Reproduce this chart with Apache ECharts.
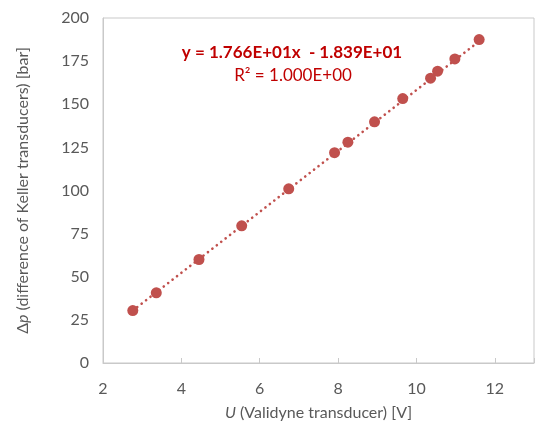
<!DOCTYPE html>
<html>
<head>
<meta charset="utf-8">
<script src="https://cdn.jsdelivr.net/npm/echarts@6/dist/echarts.min.js"></script>
<style>
  html, body { margin: 0; padding: 0; background: #fff; }
  #chart { width: 537px; height: 430px; }
</style>
</head>
<body>
<div id="chart"></div>
<script>
// measured points (U [V], dp [bar])
const voltage = [2.76, 3.36, 4.45, 5.54, 6.74, 7.91, 8.25, 8.93, 9.65, 10.36, 10.54, 10.98, 11.6];
const pressure = [30.4, 40.7, 60.0, 79.5, 101.0, 121.9, 128.0, 139.8, 153.3, 165.1, 169.2, 176.3, 187.5];
// linear trendline ends as seen in the picture
const trendX = [2.76, 11.6];
const trendY = [30.4, 186.5];
const xTicks = [2, 4, 6, 8, 10, 12];
const yTicks = [0, 25, 50, 75, 100, 125, 150, 175, 200];

const FONT = 'Lato, "Open Sans", sans-serif';
const GREY = '#595959';

const chart = echarts.init(document.getElementById('chart'), null, { renderer: 'canvas' });

const option = {
    animation: false,
    textStyle: { fontFamily: FONT },
    grid: {
        left: 103,
        top: 18,
        width: 440,
        height: 345,
        show: true,
        borderColor: '#c9c9c9',
        borderWidth: 1,
    },
    xAxis: {
        type: 'value',
        min: 2,
        max: 13,
        interval: 2,
        name: '{i|U} (Validyne transducer) [V]',
        nameLocation: 'middle',
        nameGap: 42,
        nameTextStyle: {
            fontFamily: FONT, fontSize: 16, color: GREY,
            rich: { i: { fontFamily: FONT, fontSize: 16, color: GREY, fontStyle: 'italic' } },
        },
        axisLine: { show: true, lineStyle: { color: '#c9c9c9', width: 1 } },
        axisTick: { show: true, inside: true, length: 5, lineStyle: { color: '#c9c9c9' } },
        axisLabel: {
            fontSize: 16, color: GREY, margin: 18,
            formatter: (v) => xTicks.includes(v) ? String(v) : '',
        },
        splitLine: { show: false },
    },
    yAxis: {
        type: 'value',
        min: 0,
        max: 200,
        interval: 25,
        name: 'Δ{i|p} (difference of Keller transducers) [bar]',
        nameLocation: 'middle',
        nameGap: 72,
        nameTextStyle: {
            fontFamily: FONT, fontSize: 16, color: GREY,
            rich: { i: { fontFamily: FONT, fontSize: 16, color: GREY, fontStyle: 'italic' } },
        },
        axisLine: { show: true, lineStyle: { color: '#c9c9c9', width: 1 } },
        axisTick: { show: false },
        axisLabel: {
            fontSize: 16, color: GREY, margin: 14,
            formatter: (v) => yTicks.includes(v) ? String(v) : '',
        },
        splitLine: { show: false },
    },
    series: [
        {
            name: 'trend',
            type: 'line',
            data: trendX.map((x, i) => [x, trendY[i]]),
            symbol: 'none',
            lineStyle: { color: '#c0504d', width: 2.6, type: [0.1, 5.5], cap: 'round' },
            z: 1,
        },
        {
            name: 'data',
            type: 'scatter',
            data: voltage.map((x, i) => [x, pressure[i]]),
            symbolSize: 11,
            itemStyle: { color: '#c0504d', opacity: 1 },
            z: 2,
        },
    ],
    graphic: [
        {
            type: 'text',
            x: 292,
            y: 53,
            style: {
                text: 'y = 1.766E+01x  - 1.839E+01',
                font: 'bold 17px ' + FONT,
                fill: '#c00000',
                textAlign: 'center',
                textVerticalAlign: 'middle',
            },
        },
        {
            type: 'text',
            x: 293,
            y: 76,
            style: {
                text: 'R² = 1.000E+00',
                font: '17px ' + FONT,
                fill: '#c00000',
                textAlign: 'center',
                textVerticalAlign: 'middle',
            },
        },
    ],
};

chart.setOption(option);
</script>
</body>
</html>
